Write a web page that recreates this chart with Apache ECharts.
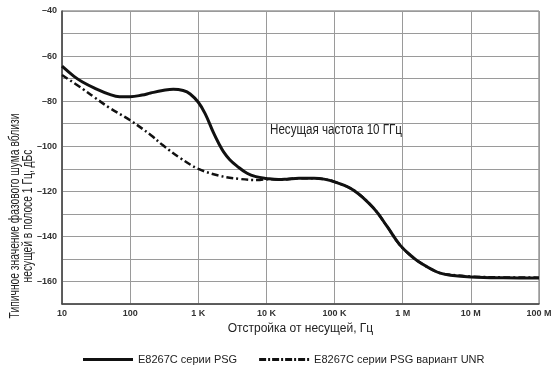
<!DOCTYPE html>
<html>
<head>
<meta charset="utf-8">
<script src="https://cdn.jsdelivr.net/npm/echarts@6/dist/echarts.min.js"></script>
<style>
html,body{margin:0;padding:0;background:#fff;}
#chart{width:556px;height:372px;}
</style>
</head>
<body>
<div id="chart"></div>
<script>
// Offset frequencies (Hz) and phase noise (dBc/Hz)
const freqPSG = [10, 15, 20, 30, 50, 70, 100, 150, 200, 300, 430, 600, 760, 1000, 1260, 1670, 2000, 2350, 2900, 3700, 5200, 7000,
  10000, 15000, 20000, 30000, 50000, 70000, 100000, 190000, 375000, 590000, 920000, 1440000, 2000000, 2800000,
  3550000, 5000000, 10000000, 30000000, 100000000];
const noisePSG = [-64.5, -69, -71.5, -74.2, -77, -78, -78, -77.3, -76.4, -75.3, -74.7, -75.3, -76.8, -80.5, -85.5, -94, -98.8, -102.5, -106, -108.8, -112, -113.5,
  -114.3, -114.8, -114.6, -114.2, -114.2, -114.6, -115.8, -119.5, -127.5, -135.6, -144, -149.5, -152.5, -155,
  -156.3, -157.2, -158, -158.4, -158.5];

const freqUNR = [10, 20, 29, 50, 100, 200, 300, 540, 1000, 2000, 4000, 8000,
  10000, 15000, 20000, 30000, 50000, 70000, 100000, 190000, 375000, 590000, 920000, 1440000, 2000000, 2800000,
  3550000, 5000000, 10000000, 30000000, 100000000];
const noiseUNR = [-68.4, -74.5, -78, -83, -88.5, -95, -99.5, -105.2, -110, -113, -114.5, -115,
  -114.6, -114.8, -114.6, -114.2, -114.2, -114.6, -115.8, -119.5, -127.5, -135.6, -144, -149.5, -152.5, -155,
  -156.3, -157, -157.8, -158.2, -158.3];

const xTickLabels = {10: '10', 100: '100', 1000: '1 K', 10000: '10 K', 100000: '100 K', 1000000: '1 M', 10000000: '10 M', 100000000: '100 M'};
const seriesNames = ['E8267C серии PSG', 'E8267C серии PSG вариант UNR'];
const xAxisTitle = 'Отстройка от несущей, Гц';
const yAxisTitle = 'Типичное значение фазового шума вблизи\nнесущей в полосе 1 Гц, дБс';
const noteText = 'Несущая частота 10 ГГц';

const FONT = '"Liberation Sans", Arial, sans-serif';

function pairs(xs, ys) { return xs.map((x, i) => [x, ys[i]]); }

const dashDotIcon = 'path://M0,0h7v3h-7z M9,0h2v3h-2z M13,0h7v3h-7z M22,0h2v3h-2z M26,0h7v3h-7z M35,0h2v3h-2z M39,0h7v3h-7z M48,0h2v3h-2z';

const chart = echarts.init(document.getElementById('chart'), null, {renderer: 'canvas'});
chart.setOption({
  animation: false,
  backgroundColor: '#fff',
  grid: {left: 62, right: 17, top: 11, bottom: 68, show: true, borderColor: '#666', borderWidth: 1},
  xAxis: {
    type: 'log', logBase: 10, min: 10, max: 100000000, splitNumber: 7,
    axisLine: {show: true, lineStyle: {color: '#444', width: 1.5}},
    axisTick: {show: false},
    minorTick: {show: false},
    splitLine: {show: true, lineStyle: {color: '#9a9a9a', width: 1}},
    axisLabel: {
      fontFamily: FONT, fontWeight: 'bold', fontSize: 9, color: '#333', margin: 5,
      formatter: v => xTickLabels[Math.round(v)] !== undefined ? xTickLabels[Math.round(v)] : ''
    },
    name: xAxisTitle, nameLocation: 'middle', nameGap: 18,
    nameTextStyle: {fontFamily: FONT, fontSize: 12, color: '#222'}
  },
  yAxis: {
    type: 'value', min: -170, max: -40, interval: 10,
    axisLine: {show: true, lineStyle: {color: '#444', width: 1.5}},
    axisTick: {show: false},
    splitLine: {show: true, lineStyle: {color: '#9a9a9a', width: 1}},
    axisLabel: {
      fontFamily: FONT, fontWeight: 'bold', fontSize: 9, color: '#333', margin: 5,
      formatter: v => ((v + 160) % 20 === 0) ? '\u2013' + Math.abs(v) : ''
    }
  },
  legend: {
    left: 78, top: 349, width: 470, itemWidth: 50, itemHeight: 3, itemGap: 22,
    textStyle: {fontFamily: FONT, fontSize: 11, color: '#222'},
    data: [
      {name: seriesNames[0], icon: 'rect'},
      {name: seriesNames[1], icon: dashDotIcon}
    ]
  },
  graphic: [
    {
      type: 'text', x: 270, y: 130, scaleX: 0.83,
      style: {text: noteText, font: '14px ' + FONT, fill: '#222', align: 'left', verticalAlign: 'middle'}
    },
    {
      type: 'text', x: 22, y: 216, rotation: Math.PI / 2, scaleX: 0.735,
      style: {text: yAxisTitle, font: '14px ' + FONT, fill: '#222', align: 'center', verticalAlign: 'middle', lineHeight: 13}
    }
  ],
  series: [
    {
      name: seriesNames[0], type: 'line', smooth: 0.4, symbol: 'none',
      lineStyle: {color: '#111', width: 3, type: 'solid'},
      itemStyle: {color: '#111'},
      data: pairs(freqPSG, noisePSG), z: 3
    },
    {
      name: seriesNames[1], type: 'line', smooth: 0.4, symbol: 'none',
      lineStyle: {color: '#111', width: 2.5, type: [7, 3, 2, 3]},
      itemStyle: {color: '#111'},
      data: pairs(freqUNR, noiseUNR), z: 2
    }
  ]
});
</script>
</body>
</html>
